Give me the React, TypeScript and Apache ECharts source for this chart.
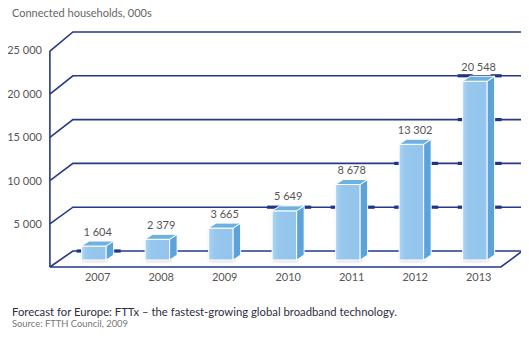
import React, { useEffect, useRef } from "react";
import * as echarts from "echarts";

const years = ["2007", "2008", "2009", "2010", "2011", "2012", "2013"];
const households = [1604, 2379, 3665, 5649, 8678, 13302, 20548];
const yTicks = [0, 5000, 10000, 15000, 20000, 25000];
const yTickLabels = ["", "5 000", "10 000", "15 000", "20 000", "25 000"];

const yAxisTitle = "Connected households, 000s";
const caption = "Forecast for Europe: FTTx \u2013 the fastest-growing global broadband technology.";
const source = "Source: FTTH Council, 2009";

const FONT = "Lato, 'Noto Sans', sans-serif";
const LINE = "#26388c";
const PIN = "#1c3585";

const fmt = (v: number) => String(v).replace(/\B(?=(\d{3})+(?!\d))/g, " ");

export default function App() {
  const ref = useRef<HTMLDivElement>(null);
  useEffect(() => {
    if (!ref.current) return;
    const chart = echarts.init(ref.current, null, { renderer: "svg" });

    const planes = (api: any, v: number) => {
      const y0 = api.coord([0, 0])[1];
      const ym = api.coord([0, v])[1];
      return {
        yFront: y0 + 7 + (ym - y0) * 0.993,
        yBack: y0 - 9 + (ym - y0) * 1.007,
      };
    };

    const option: any = {
      animation: false,
      grid: { left: 65.9, right: 18.6, top: 42.5, bottom: 78 },
      xAxis: {
        type: "category",
        data: years,
        axisLine: { show: false },
        axisTick: { show: false },
        axisLabel: { margin: 11, color: "#555", fontSize: 11, fontFamily: FONT },
      },
      yAxis: {
        type: "value",
        min: 0,
        max: 25000,
        interval: 5000,
        splitLine: { show: false },
        axisLine: { show: false },
        axisTick: { show: false },
        axisLabel: {
          margin: 24,
          color: "#555",
          fontSize: 11,
          fontFamily: FONT,
          verticalAlign: "top",
          padding: [1.5, 0, 0, 0],
          formatter: (v: number) => yTickLabels[yTicks.indexOf(v)] ?? "",
        },
      },
      graphic: [
        {
          type: "text",
          left: 12,
          top: 7,
          style: { text: yAxisTitle, fill: "#666", fontSize: 11, fontFamily: FONT },
        },
        {
          type: "text",
          left: 12,
          top: 306,
          style: { text: caption, fill: "#2e2e3c", fontSize: 11.3, fontFamily: FONT },
        },
        {
          type: "text",
          left: 12,
          top: 319,
          style: { text: source, fill: "#777", fontSize: 9.4, fontFamily: FONT },
        },
      ],
      series: [
        {
          type: "custom",
          z: 1,
          clip: false,
          data: yTicks.map((t) => [0, t]),
          renderItem: (params: any, api: any) => {
            const cs = params.coordSys;
            const t = api.value(1);
            const { yFront, yBack } = planes(api, t);
            const xFL = cs.x - 16;
            const xBL = cs.x + 7;
            const xBR = cs.x + cs.width + 12;
            const xFR = cs.x + cs.width - 9.5;
            const children: any[] = [
              {
                type: "polyline",
                shape: { points: [[xFL, yFront], [xBL, yBack], [xBR, yBack]] },
                style: { stroke: LINE, lineWidth: 1.6, fill: null },
              },
            ];
            if (t === 0) {
              children.push({
                type: "polyline",
                shape: { points: [[xFL, yFront], [xFR, yFront], [xBR, yBack]] },
                style: { stroke: LINE, lineWidth: 1.6, fill: null },
              });
              const top = planes(api, yTicks[yTicks.length - 1]).yFront;
              children.push({
                type: "line",
                shape: { x1: xFL, y1: yFront, x2: xFL, y2: top },
                style: { stroke: LINE, lineWidth: 1.6 },
              });
            }
            return { type: "group", children };
          },
        },
        {
          type: "custom",
          z: 2,
          clip: false,
          data: households.map((v, i) => [i, v]),
          renderItem: (params: any, api: any) => {
            const idx = api.value(0);
            const val = api.value(1);
            const [c, top] = api.coord([idx, val]);
            const base = api.coord([idx, 0])[1];
            const L = c - 16;
            const R = c + 8.5;
            const dx = 7.5;
            const dy = 5;
            const children: any[] = [];
            yTicks.forEach((t) => {
              const yb = planes(api, t).yBack;
              const inside = yb >= top - dy - 1 && yb <= base;
              const ok = t > 0 ? inside : inside && yb - (top - dy) < 12;
              if (ok) {
                children.push({
                  type: "line",
                  shape: { x1: c - 21, y1: yb, x2: c - 6, y2: yb },
                  style: { stroke: PIN, lineWidth: 3.2 },
                });
                children.push({
                  type: "line",
                  shape: { x1: c + 12, y1: yb, x2: c + 23, y2: yb },
                  style: { stroke: PIN, lineWidth: 3.2 },
                });
              }
            });
            children.push({
              type: "rect",
              shape: { x: L, y: top, width: R - L, height: base - top },
              style: {
                fill: new echarts.graphic.LinearGradient(0, 0, 1, 0, [
                  { offset: 0, color: "#abd5f4" },
                  { offset: 0.25, color: "#97c7ed" },
                  { offset: 1, color: "#93c4ec" },
                ]),
                stroke: "#ffffff",
                lineWidth: 1,
                shadowBlur: 3,
                shadowColor: "rgba(0,0,0,0.18)",
                shadowOffsetX: 1,
                shadowOffsetY: 1,
              },
            });
            children.push({
              type: "polygon",
              shape: { points: [[R, top], [R + dx, top - dy], [R + dx, base - dy], [R, base]] },
              style: { fill: "#5ba3da", stroke: "#ffffff", lineWidth: 1 },
            });
            children.push({
              type: "polygon",
              shape: { points: [[L, top], [L + dx, top - dy], [R + dx, top - dy], [R, top]] },
              style: { fill: "#6db1e3", stroke: "#ffffff", lineWidth: 1 },
            });
            children.push({
              type: "text",
              style: {
                text: fmt(val),
                x: c,
                y: top - dy - 10,
                align: "center",
                verticalAlign: "middle",
                fill: "#555",
                fontSize: 11,
                fontFamily: FONT,
              },
            });
            return { type: "group", children };
          },
        },
      ],
    };
    chart.setOption(option);
    return () => chart.dispose();
  }, []);
  return <div ref={ref} style={{ width: 529, height: 338, margin: -8 }} />;
}
